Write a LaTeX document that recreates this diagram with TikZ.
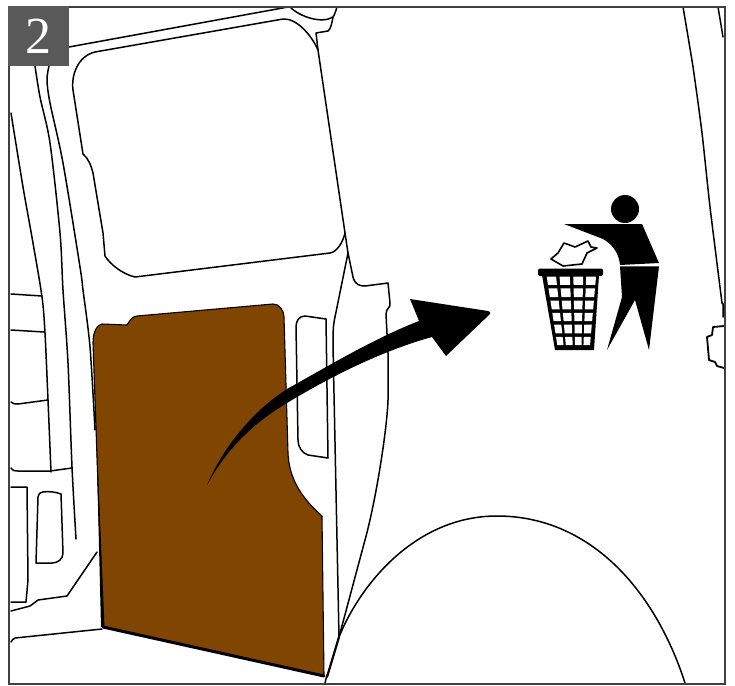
\documentclass[tikz,border=0pt]{standalone}
\usepackage{fontspec}
\setmainfont{Liberation Serif}
\definecolor{panel}{HTML}{804500}
\definecolor{framegray}{HTML}{404040}
\definecolor{badge}{HTML}{595959}
\tikzset{
  ln/.style={line width=1.5pt,black,line join=round,line cap=round},
  thickln/.style={line width=3pt,black,line cap=round,line join=round}
}
\begin{document}
\begin{tikzpicture}[x=1pt,y=-1pt]
\useasboundingbox (0,0) rectangle (735,685);
\fill[white] (0,0) rectangle (735,685);
% brown panel
\filldraw[fill=panel,draw=black,line width=1.1pt,line join=round]
 (103,627) -- (93,343) .. controls (93,335) and (95,326) .. (102,324) -- (127,325)
 .. controls (130,320) and (133,316) .. (137,316) -- (273,304)
 .. controls (279,304) and (284,310) .. (284,317) -- (288,453)
 .. controls (289,475) and (298,495) .. (322,516) -- (324,676) -- cycle;
\fill[black] (96,425) -- (104.5,627) -- (101,627) -- cycle;
\draw[thickln] (103,627) -- (324,676);
% window
\draw[ln] (95,52) -- (283,19) .. controls (297,18) and (312,36) .. (318,50) -- (345,233)
 .. controls (343,242) and (337,252) .. (330,253) -- (135,277)
 .. controls (122,274) and (110,264) .. (105,256) -- (103,233)
 -- (93,173) .. controls (91,165) and (88,158) .. (83,154) -- (73,90)
 .. controls (71,75) and (78,56) .. (95,52) -- cycle;
\draw[ln] (69,47) -- (288,7);
\draw[ln] (290,7) .. controls (300,17) and (322,24) .. (333,17) .. controls (335,14) and (336,10) .. (337,7);
\draw[ln] (318,50) -- (316,33) -- (328,31) .. controls (331,29) and (332,22) .. (333,17);
% door edge
\draw[ln] (345,233) -- (348,253) -- (353,277) .. controls (355,285) and (360,286) .. (365,286) -- (388,283)
 -- (390,303) .. controls (391,308) and (386,308) .. (386,314) -- (388,353) -- (388,400)
 .. controls (387,430) and (376,500) .. (365,540) -- (339,637);
\draw[ln] (348,253) -- (335,317) .. controls (333,325) and (333,335) .. (333,345) -- (339,637);
% bottom corner and wheel arch
\draw[thickln,line width=2.2pt] (327,677) -- (339,637);
\draw[ln] (327,675) -- (325,683);
\draw[ln] (339,637) .. controls (360,585) and (415,516) .. (497,516) .. controls (590,516) and (655,590) .. (685,683);
% slot
\draw[ln] (296,327) .. controls (296,321) and (299,316) .. (305,316) -- (326,319) -- (328,458) -- (308,455)
 .. controls (302,453) and (298,447) .. (298,440) -- cycle;
% left side curves
\draw[ln] plot[smooth,tension=0.5] coordinates {(11,113) (23,187) (33,243) (42,297) (45,333) (48,400) (51,472)};
\draw[ln] plot[smooth,tension=0.5] coordinates {(35,66) (40,97) (50,143) (60,233) (63,290) (68,363) (72,467) (76,539)};
\draw[ln] plot[smooth,tension=0.5] coordinates {(49,66) (47,80) (50,103) (63,163) (80,267) (83,290) (90,347) (95,430)};
\draw[ln] (11,294) -- (42,296);
\draw[ln] (11,330) -- (44,332);
\draw[ln] (11,402) .. controls (13,404) and (15,404) .. (18,404) -- (48,400);
\draw[ln] (11,468) .. controls (13,471) and (15,471) .. (18,471) -- (50,471) -- (72,468);
\draw[ln] (11,487) -- (27,487) -- (28,580) -- (26,602) -- (11,602);
\draw[ln] (38,497) .. controls (39,493) and (41,492) .. (43,492) .. controls (48,491) and (56,492) .. (61,494)
 -- (63,553) .. controls (63,559) and (58,563) .. (52,563) -- (36,563) -- cycle;
\draw[ln] (11,611) -- (30,606) -- (38,600) -- (67,596) -- (97,552);
\draw[ln] (11,642) .. controls (12,640) and (13,639) .. (15,638) -- (102,629);
% right side
\draw[ln] plot[smooth,tension=0.4] coordinates {(683,7) (693,67) (702,133) (710,207) (722,303)};
\draw[ln] (722,303) -- (723,304) -- (723,317);
\draw[ln] (718,7) -- (723,37);
\draw[ln,line width=1.8pt] (724,326) -- (713,327) -- (712,335) -- (707,337) -- (709,360) -- (715,362) -- (717,366) -- (724,368);
% arrow
\fill[black] (207,485) .. controls (222,450) and (250,413) .. (287,389)
 .. controls (330,365) and (375,338) .. (419,321)
 -- (410,299) -- (488,311) .. controls (490,311) and (491,313) .. (490,314) -- (446,356) -- (432,337)
 .. controls (385,350) and (335,374) .. (287,403)
 .. controls (250,425) and (225,452) .. (207,485) -- cycle;
% figure
\fill[black] (625,209) circle[radius=14];
\fill[black] (564,224) -- (642,224) -- (659,263) -- (620,265)
 .. controls (619,253) and (612,244) .. (603,239) -- cycle;
\fill[black] (620,266.3) -- (659,266.3) -- (649,350) -- (635,300) -- (607,350) -- (622,297) -- cycle;
% bin
\fill[black,rounded corners=2pt] (538,268.5) rectangle (603,276);
\fill[black] (542,275) -- (599,275) -- (594,350) -- (555,350) -- cycle;
\foreach \a/\b in {0/.12,.17/.30,.35/.48,.53/.65,.70/.83,.88/1}{
  \foreach \c/\d in {0/.19,.26/.47,.54/.74,.80/1}{
    \pgfmathsetmacro{\yt}{276.7+\a*68.3}
    \pgfmathsetmacro{\yb}{276.7+\b*68.3}
    \pgfmathsetmacro{\lt}{546.7+\a*10.6}
    \pgfmathsetmacro{\wt}{49.3-\a*16.6}
    \pgfmathsetmacro{\lb}{546.7+\b*10.6}
    \pgfmathsetmacro{\wb}{49.3-\b*16.6}
    \fill[white] (\lt+\c*\wt,\yt) -- (\lt+\d*\wt,\yt) -- (\lb+\d*\wb,\yb) -- (\lb+\c*\wb,\yb) -- cycle;
  }
}
% paper
\draw[ln,line width=1.6pt,fill=white] (564,243) -- (575,247) -- (588,241) -- (591,247) -- (597,248) -- (587,253) -- (582,264) -- (563,266) -- (551,259) -- (558,253) -- cycle;
% frame and badge
\draw[framegray,line width=2pt] (9,7) rectangle (725,684);
\fill[badge] (8,6) rectangle (69,66);
\node[text=white,font=\fontsize{52}{52}\selectfont,anchor=center,inner sep=0pt] (badgenum) at (38,36) {2};
\end{tikzpicture}
\end{document}
